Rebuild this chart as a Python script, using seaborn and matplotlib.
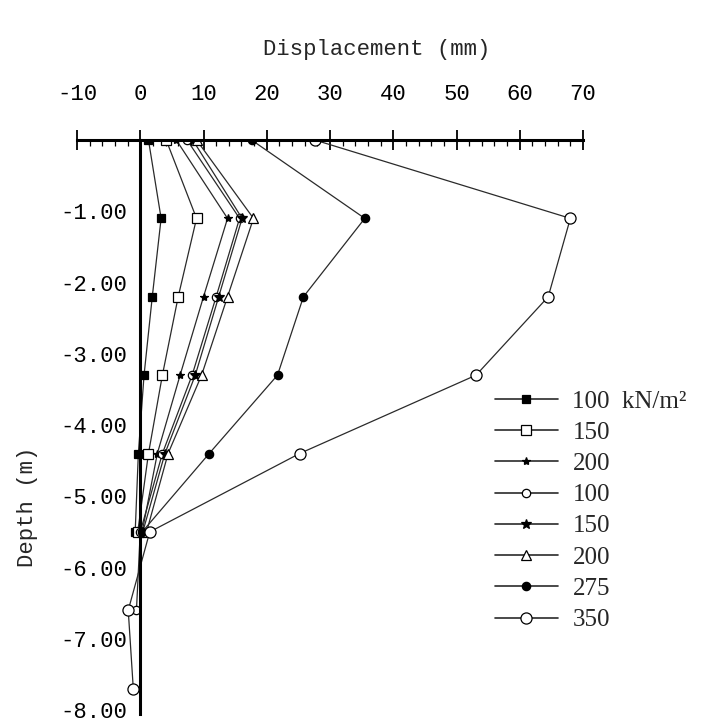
import numpy as np
import pandas as pd
import seaborn as sns
import matplotlib.pyplot as plt
from matplotlib.ticker import MultipleLocator, FormatStrFormatter

# depths of the measuring points (m)
depth = [0.0, -1.1, -2.2, -3.3, -4.4, -5.5, -6.6, -7.7]

# legend labels (applied pressure)
labels = ["100  kN/m²", "150", "200", "100", "150", "200", "275", "350"]

# displacement (mm) at each depth, one list per load step
disp_100a = [1.3, 3.3, 1.9, 0.6, -0.3, -0.8]
disp_150a = [4.1, 8.9, 6.0, 3.5, 1.3, -0.4]
disp_200a = [5.7, 13.8, 10.0, 6.3, 2.7, 0.3]
disp_100b = [7.4, 15.7, 12.0, 8.2, 3.5, 0.0, -0.6]
disp_150b = [8.3, 16.1, 12.4, 8.7, 3.9, 0.4]
disp_200b = [8.9, 17.9, 13.8, 9.7, 4.4, 1.0]
disp_275 = [17.6, 35.5, 25.8, 21.7, 10.9, 0.3]
disp_350 = [27.6, 68.0, 64.5, 53.1, 25.2, 1.5, -1.9, -1.1]

series = [disp_100a, disp_150a, disp_200a, disp_100b,
          disp_150b, disp_200b, disp_275, disp_350]

# marker styles: (marker, size, facecolor)
styles = [
    ("s", 6, "black"),
    ("s", 7, "white"),
    ("*", 6, "black"),
    ("o", 6, "white"),
    ("*", 7, "black"),
    ("^", 7, "white"),
    ("o", 6, "black"),
    ("o", 8, "white"),
]

sns.set_style("white")
plt.rcParams["font.family"] = ["Liberation Mono", "DejaVu Sans Mono"]
plt.rcParams["axes.unicode_minus"] = False

fig = plt.figure(figsize=(7.02, 7.23), dpi=100)
ax = fig.add_axes([77 / 702, 9.4 / 723, 506 / 702, 573.6 / 723])

for vals, lab, (mk, ms, fc) in zip(series, labels, styles):
    df = pd.DataFrame({"disp": vals, "depth": depth[:len(vals)]})
    sns.lineplot(data=df, x="disp", y="depth", sort=False, ax=ax,
                 color="#2a2a2a", linewidth=0.9, marker=mk, markersize=ms,
                 markerfacecolor=fc, markeredgecolor="black",
                 markeredgewidth=0.9, label=lab)

ax.set_xlim(-10, 70)
ax.set_ylim(-8.05, 0)

# axes drawn as crossing lines: top axis at depth 0, left axis at x = 0
for side in ("right", "bottom"):
    ax.spines[side].set_visible(False)
ax.spines["left"].set_position(("data", 0))
for side in ("top", "left"):
    ax.spines[side].set_linewidth(2.2)
    ax.spines[side].set_color("black")

ax.xaxis.tick_top()
ax.xaxis.set_label_position("top")
ax.xaxis.set_major_locator(MultipleLocator(10))
ax.xaxis.set_minor_locator(MultipleLocator(2))
ax.yaxis.set_minor_locator(MultipleLocator(0.2))
ax.set_yticks([-1, -2, -3, -4, -5, -6, -7, -8])
ax.yaxis.set_major_formatter(FormatStrFormatter("%.2f"))

ax.tick_params(axis="x", which="major", direction="inout", length=14,
               width=1.3, pad=18, labelsize=16, colors="black")
ax.tick_params(axis="x", which="minor", direction="in", length=4,
               width=0.9, colors="black")
ax.tick_params(axis="y", which="major", direction="inout", length=12,
               width=1.3, pad=3, labelsize=16, colors="black")
ax.tick_params(axis="y", which="minor", direction="in", length=4,
               width=0.9, colors="black")

ax.set_xlabel("Displacement (mm)", fontsize=16, va="center")
ax.xaxis.set_label_coords(0.593, 1.157)
ax.set_ylabel("Depth (m)", fontsize=16, va="center")
ax.yaxis.set_label_coords(-0.097, 0.36)

leg = ax.legend(loc="upper left", bbox_to_anchor=(495 / 702, 1 - 390 / 723),
                bbox_transform=fig.transFigure, frameon=False, borderpad=0,
                borderaxespad=0, handlelength=2.5, handletextpad=0.6,
                labelspacing=0.35, numpoints=1,
                prop={"family": "Liberation Serif", "size": 18})
for line in leg.get_lines():
    line.set_linewidth(1.2)

fig.savefig("out.png", dpi=100)
